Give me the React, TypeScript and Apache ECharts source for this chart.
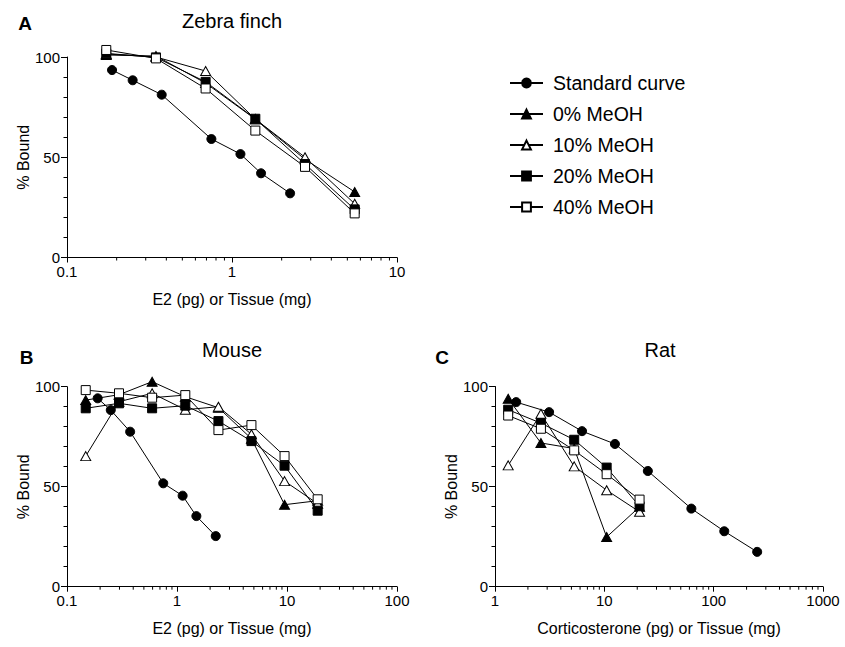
import React, { useEffect, useRef } from "react";
import * as echarts from "echarts";

const FONT = '"Liberation Sans", Arial, Helvetica, sans-serif';

const seriesNames = ["Standard curve", "0% MeOH", "10% MeOH", "20% MeOH", "40% MeOH"];

// Panel A - Zebra finch
const aStdX = [0.1875, 0.25, 0.375, 0.75, 1.125, 1.5, 2.25];
const aStdY = [93.5, 88.4, 81.2, 59.1, 51.6, 42.0, 32.0];
const aTissueX = [0.173, 0.346, 0.692, 1.385, 2.77, 5.54];
const a0 = [101, 100.5, 87, 69, 49, 32.7];
const a10 = [101.5, 100, 93, 69, 50, 26.8];
const a20 = [101.8, 99.8, 87.6, 69.2, 46.6, 24];
const a40 = [103.5, 99.3, 84.3, 63.3, 45.2, 22];

// Panel B - Mouse
const bStdX = [0.19, 0.25, 0.375, 0.75, 1.125, 1.5, 2.25];
const bStdY = [94.2, 88.3, 77.5, 51.7, 45.5, 35.3, 25.3];
const bTissueX = [0.148, 0.297, 0.594, 1.19, 2.38, 4.75, 9.5, 19];
const b0 = [93.3, 96, 102.5, 95, 89.5, 74, 41, 43];
const b10 = [65.3, 92.5, 96.7, 88.5, 90, 76.2, 52.8, 41.5];
const b20 = [89.2, 91.7, 89.2, 90.5, 82.8, 72.8, 60.5, 38];
const b40 = [98.3, 96.7, 94.5, 95.8, 78.3, 80.8, 65.3, 43.7];

// Panel C - Rat
const cStdX = [1.5625, 3.125, 6.25, 12.5, 25, 62.5, 125, 250];
const cStdY = [92.2, 87.2, 77.7, 71.3, 57.8, 39.0, 27.7, 17.4];
const cTissueX = [1.32, 2.63, 5.3, 10.5, 21];
const c0 = [93.9, 71.8, 69, 24.8, 39.9];
const c10 = [60.6, 86.4, 60.1, 48.2, 37.4];
const c20 = [88.4, 81.7, 73.4, 59.5, 40.2];
const c40 = [85.5, 78.9, 68.1, 56.2, 43.5];

// Minor tick values for the log x axes
const aMinor = [0.2, 0.3, 0.4, 0.5, 0.6, 0.7, 0.8, 0.9, 2, 3, 4, 5, 6, 7, 8, 9];
const bMinor = [0.2, 0.3, 0.4, 0.5, 0.6, 0.7, 0.8, 0.9, 2, 3, 4, 5, 6, 7, 8, 9, 20, 30, 40, 50, 60, 70, 80, 90];
const cMinor = [2, 3, 4, 5, 6, 7, 8, 9, 20, 30, 40, 50, 60, 70, 80, 90, 200, 300, 400, 500, 600, 700, 800, 900];

const xTitles = ["E2 (pg) or Tissue (mg)", "E2 (pg) or Tissue (mg)", "Corticosterone (pg) or Tissue (mg)"];
const xRanges = [
  [0.1, 10],
  [0.1, 100],
  [1, 1000],
];

const styles: Record<string, { symbol: string; size: any; fill: string }> = {
  "Standard curve": { symbol: "circle", size: 9, fill: "#000" },
  "0% MeOH": { symbol: "triangle", size: [10, 9], fill: "#000" },
  "10% MeOH": { symbol: "triangle", size: [10, 9], fill: "#fff" },
  "20% MeOH": { symbol: "rect", size: 9, fill: "#000" },
  "40% MeOH": { symbol: "rect", size: 9, fill: "#fff" },
};

const zip = (xs: number[], ys: number[]) => xs.map((x, i) => [x, ys[i]]);

const panels = [
  { std: zip(aStdX, aStdY), sets: [a0, a10, a20, a40].map((s) => zip(aTissueX, s)), minor: aMinor },
  { std: zip(bStdX, bStdY), sets: [b0, b10, b20, b40].map((s) => zip(bTissueX, s)), minor: bMinor },
  { std: zip(cStdX, cStdY), sets: [c0, c10, c20, c40].map((s) => zip(cTissueX, s)), minor: cMinor },
];

const grids = [
  { left: 67, top: 57, width: 330, height: 200.5 },
  { left: 67, top: 386.7, width: 330, height: 200 },
  { left: 495, top: 386.5, width: 328, height: 200.2 },
];

function buildOption() {
  const series: any[] = [];
  panels.forEach((p, i) => {
    const all = [p.std, ...p.sets];
    all.forEach((data, k) => {
      const name = seriesNames[k];
      const st = styles[name];
      series.push({
        type: "line",
        name,
        xAxisIndex: i,
        yAxisIndex: i,
        data,
        symbol: st.symbol,
        symbolSize: st.size,
        showSymbol: true,
        showAllSymbol: true,
        clip: false,
        lineStyle: { color: "#000", width: 1 },
        itemStyle: { color: st.fill, borderColor: "#000", borderWidth: 1, opacity: 1 },
        emphasis: { disabled: true },
        z: 2 + k,
      });
    });
    series.push({
      type: "custom",
      xAxisIndex: i,
      yAxisIndex: i,
      silent: true,
      clip: false,
      z: 1,
      data: p.minor.map((v) => [v, 0]),
      renderItem: (_params: any, api: any) => {
        const pt = api.coord([api.value(0), 0]);
        return {
          type: "line",
          shape: { x1: pt[0], y1: pt[1], x2: pt[0], y2: pt[1] + 3 },
          style: { stroke: "#000", lineWidth: 1 },
        };
      },
    });
  });

  const xAxis = grids.map((_, i) => ({
    gridIndex: i,
    type: "log",
    logBase: 10,
    min: xRanges[i][0],
    max: xRanges[i][1],
    axisLine: { show: true, lineStyle: { color: "#000", width: 1 } },
    axisTick: { show: true, length: 5, lineStyle: { color: "#000", width: 1 } },
    axisLabel: {
      color: "#000",
      fontSize: 15,
      fontFamily: FONT,
      margin: 8,
      lineHeight: 12,
      formatter: (v: number) => String(v),
    },
    splitLine: { show: false },
    name: xTitles[i],
    nameLocation: "middle",
    nameGap: 34,
    nameTextStyle: { color: "#000", fontSize: 16, fontFamily: FONT },
  }));

  const yAxis = grids.map((_, i) => ({
    gridIndex: i,
    type: "value",
    min: 0,
    max: 100,
    interval: 50,
    axisLine: { show: true, lineStyle: { color: "#000", width: 1 } },
    axisTick: { show: true, length: 6, lineStyle: { color: "#000", width: 1 } },
    minorTick: { show: true, splitNumber: 5, length: 3.5, lineStyle: { color: "#000", width: 1 } },
    axisLabel: { color: "#000", fontSize: 15, fontFamily: FONT, margin: 7, lineHeight: 11 },
    splitLine: { show: false },
    minorSplitLine: { show: false },
    name: "% Bound",
    nameLocation: "middle",
    nameGap: 36,
    nameTextStyle: { color: "#000", fontSize: 16, fontFamily: FONT },
  }));

  const txt = (text: string, x: number, y: number, size: number, bold = false) => ({
    type: "text",
    x,
    y,
    style: {
      text,
      fill: "#000",
      fontSize: size,
      fontFamily: FONT,
      fontWeight: bold ? "bold" : "normal",
      textAlign: "center",
      textVerticalAlign: "middle",
    },
  });

  return {
    animation: false,
    backgroundColor: "#fff",
    grid: grids,
    xAxis,
    yAxis,
    series,
    legend: {
      orient: "vertical",
      left: 504,
      top: 68,
      itemWidth: 33,
      itemHeight: 11,
      itemGap: 11,
      selectedMode: false,
      data: seriesNames,
      textStyle: { color: "#000", fontSize: 19.5, fontFamily: FONT, padding: [0, 0, 0, 5] },
    },
    graphic: [
      txt("A", 25, 23, 19, true),
      txt("B", 26.5, 357, 19, true),
      txt("C", 442, 357, 19, true),
      txt("Zebra finch", 232, 21, 20),
      txt("Mouse", 232, 350, 20),
      txt("Rat", 660, 350, 20),
    ],
  };
}

export default function App() {
  const ref = useRef<HTMLDivElement>(null);
  useEffect(() => {
    const chart = echarts.init(ref.current as HTMLDivElement, null, { renderer: "svg" });
    chart.setOption(buildOption() as any);
    return () => chart.dispose();
  }, []);
  return (
    <div
      ref={ref}
      style={{ position: "fixed", left: 0, top: 0, width: 845, height: 647, background: "#fff" }}
    />
  );
}
